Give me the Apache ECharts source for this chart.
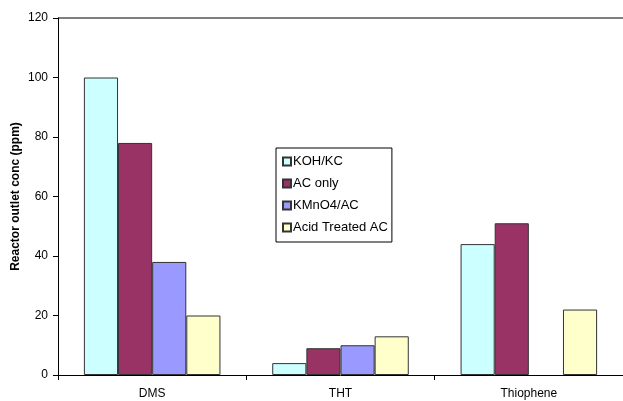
<!DOCTYPE html>
<html><head><meta charset="utf-8">
<script src="https://cdn.jsdelivr.net/npm/echarts@6/dist/echarts.min.js"></script>
<style>html,body{margin:0;padding:0;background:#fff}#c{width:623px;height:401px}</style>
</head><body><div id="c"></div>
<script>
const categories = ['DMS', 'THT', 'Thiophene'];
const seriesNames = ['KOH/KC', 'AC only', 'KMnO4/AC', 'Acid Treated AC'];
const kohKc = [100, 4, 44];
const acOnly = [78, 9, 51];
const kmno4Ac = [38, 10, null];
const acidTreatedAc = [20, 13, 22];
const yTicks = [0, 20, 40, 60, 80, 100, 120];

const colors = ['#CCFFFF', '#993366', '#9999FF', '#FFFFCC'];
const values = [kohKc, acOnly, kmno4Ac, acidTreatedAc];
const font = 'Arial, "Liberation Sans", sans-serif';
const chart = echarts.init(document.getElementById('c'));
chart.setOption({
  animation: false,
  grid: {left: 58, right: 0, top: 18, bottom: 26, containLabel: false, outerBoundsMode: 'none'},
  legend: {
    orient: 'vertical', left: 276, top: 148,
    data: seriesNames, icon: 'rect', itemWidth: 8, itemHeight: 8, itemGap: 9,
    borderColor: '#000', borderWidth: 1, padding: [7, 4, 8, 6],
    textStyle: {fontFamily: font, fontSize: 13, color: '#000', padding: [0,0,0,-3]},
    backgroundColor: '#fff'
  },
  xAxis: {
    type: 'category', data: categories,
    axisLine: {lineStyle: {color: '#000', width: 1}},
    axisTick: {show: true, length: 5, lineStyle: {color: '#000'}},
    axisLabel: {fontFamily: font, fontSize: 12, color: '#000', margin: 13}
  },
  yAxis: {
    type: 'value', min: 0, max: 120, interval: 20,
    name: 'Reactor outlet conc (ppm)', nameLocation: 'middle', nameGap: 36, nameMoveOverlap: false,
    nameTextStyle: {fontFamily: font, fontSize: 12, fontWeight: 'bold', color: '#000'},
    axisLine: {show: true, lineStyle: {color: '#000', width: 1}},
    axisTick: {show: true, length: 5, inside: false, lineStyle: {color: '#000'}},
    axisLabel: {fontFamily: font, fontSize: 12, color: '#000', margin: 10,
      formatter: v => yTicks.includes(v) ? String(v) : ''},
    splitLine: {show: true, lineStyle: {color: ['rgba(0,0,0,0)','rgba(0,0,0,0)','rgba(0,0,0,0)','rgba(0,0,0,0)','rgba(0,0,0,0)','rgba(0,0,0,0)','#555'], width: 1.5}}
  },
  series: seriesNames.map((n, i) => ({
    name: n, type: 'bar', data: values[i],
    barGap: '0%', barCategoryGap: '27.5%',
    itemStyle: {color: colors[i], borderColor: '#333', borderWidth: 1}
  }))
});
</script></body></html>
